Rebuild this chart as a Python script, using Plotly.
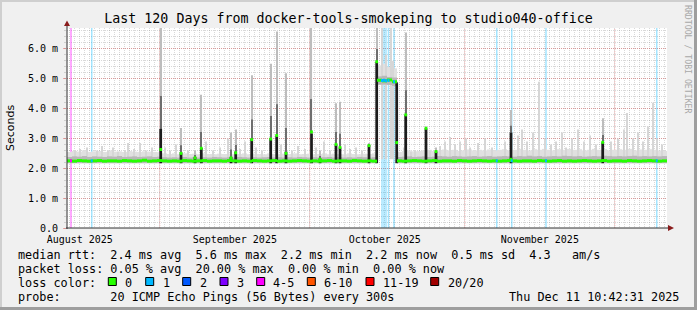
import plotly.graph_objects as go
import pandas as pd

# ---------------- data ----------------
START = pd.Timestamp("2025-08-13 10:42:31")
END = pd.Timestamp("2025-12-11 10:42:31")
Y_MAX = 6.7

# daily median rtt (ms), one value per day from START
median_daily = [
    2.25, 2.24, 2.26, 2.25, 2.24, 2.25, 2.26, 2.24, 2.25, 2.25,
    2.24, 2.26, 2.25, 2.24, 2.25, 2.27, 2.24, 2.25, 2.26, 2.25,
    2.24, 2.25, 2.24, 2.26, 2.25, 2.24, 2.25, 2.26, 2.24, 2.25,
    2.25, 2.24, 2.26, 2.25, 2.24, 2.25, 2.24, 2.26, 2.25, 2.24,
    2.25, 2.26, 2.24, 2.25, 2.24, 2.25, 2.26, 2.25, 2.24, 2.25,
    2.24, 2.25, 2.26, 2.24, 2.25, 2.25, 2.24, 2.26, 2.25, 2.24,
    2.25, 2.24, 4.95, 4.93, 4.96, 4.90, 2.25, 2.24, 2.25, 2.26,
    2.25, 2.24, 2.25, 2.26, 2.24, 2.25, 2.25, 2.24, 2.26, 2.25,
    2.24, 2.25, 2.26, 2.25, 2.24, 2.25, 2.24, 2.25, 2.26, 2.25,
    2.24, 2.25, 2.25, 2.24, 2.26, 2.25, 2.24, 2.25, 2.26, 2.24,
    2.25, 2.24, 2.25, 2.26, 2.25, 2.24, 2.25, 2.26, 2.24, 2.25,
    2.25, 2.24, 2.26, 2.25, 2.24, 2.25, 2.26, 2.25, 2.24, 2.25,
]
# lowest ping of the smoke, per day
smoke_floor_daily = [2.17] * 62 + [4.80, 4.80, 4.79, 4.76] + [2.17] * 54
# top of the dense (darker) smoke, per day
smoke_dense_daily = [
    2.38, 2.40, 2.39, 2.41, 2.38, 2.40, 2.39, 2.38, 2.40, 2.39,
    2.41, 2.38, 2.39, 2.40, 2.38, 2.39, 2.40, 2.38, 2.39, 2.37,
    2.36, 2.37, 2.36, 2.38, 2.36, 2.37, 2.36, 2.37, 2.36, 2.38,
    2.37, 2.36, 2.37, 2.36, 2.38, 2.37, 2.36, 2.37, 2.36, 2.37,
    2.38, 2.36, 2.37, 2.36, 2.37, 2.36, 2.38, 2.37, 2.36, 2.37,
    2.36, 2.37, 2.38, 2.36, 2.37, 2.36, 2.37, 2.36, 2.38, 2.37,
    2.36, 2.37, 5.08, 5.10, 5.06, 5.04, 2.38, 2.39, 2.40, 2.38,
    2.39, 2.40, 2.38, 2.39, 2.41, 2.40, 2.39, 2.41, 2.40, 2.39,
    2.40, 2.41, 2.39, 2.40, 2.41, 2.39, 2.40, 2.41, 2.40, 2.39,
    2.41, 2.40, 2.42, 2.40, 2.41, 2.39, 2.40, 2.41, 2.40, 2.42,
    2.41, 2.40, 2.41, 2.39, 2.40, 2.41, 2.40, 2.42, 2.41, 2.40,
    2.41, 2.40, 2.41, 2.42, 2.40, 2.41, 2.40, 2.41, 2.40, 2.41,
]
# top of the light smoke, per day
smoke_top_daily = [
    2.55, 2.58, 2.56, 2.60, 2.55, 2.57, 2.58, 2.55, 2.60, 2.56,
    2.57, 2.55, 2.58, 2.56, 2.55, 2.57, 2.56, 2.55, 2.54, 2.50,
    2.48, 2.50, 2.47, 2.50, 2.48, 2.49, 2.47, 2.50, 2.48, 2.47,
    2.49, 2.48, 2.50, 2.47, 2.48, 2.50, 2.47, 2.49, 2.48, 2.47,
    2.50, 2.48, 2.47, 2.49, 2.48, 2.50, 2.47, 2.48, 2.49, 2.47,
    2.48, 2.50, 2.47, 2.49, 2.48, 2.47, 2.50, 2.48, 2.47, 2.49,
    2.48, 2.50, 5.45, 5.50, 5.40, 5.35, 2.55, 2.58, 2.60, 2.57,
    2.58, 2.60, 2.62, 2.58, 2.60, 2.63, 2.60, 2.62, 2.58, 2.60,
    2.63, 2.60, 2.62, 2.60, 2.63, 2.60, 2.62, 2.64, 2.60, 2.62,
    2.65, 2.62, 2.60, 2.64, 2.62, 2.65, 2.62, 2.60, 2.64, 2.62,
    2.65, 2.62, 2.64, 2.60, 2.62, 2.65, 2.62, 2.64, 2.60, 2.62,
    2.64, 2.62, 2.65, 2.60, 2.63, 2.62, 2.64, 2.62, 2.60, 2.58,
]

# thin light-grey smoke wisps: day offset and top (ms)
fluff_day = [1.6, 2.6, 4.0, 6.0, 7.0, 8.2, 9.2, 10.2, 11.6, 12.2, 13.4, 14.6, 15.8, 17.0,
             19.6, 20.6, 21.8, 24.2, 27.8, 29.2, 30.6, 32.2, 34.6, 35.6, 37.8, 39.0, 42.8,
             45.0, 46.2, 47.6, 49.8, 51.4, 52.6, 55.6, 56.6, 57.8, 59.0,
             63.0, 63.8, 64.8, 65.2,
             67.4, 68.8, 69.6, 72.6, 74.6, 75.6, 76.6, 77.6, 78.6, 79.8, 80.6, 82.2, 83.6, 85.0,
             87.6, 90.2, 91.0, 92.0, 93.2, 94.4, 95.6, 96.8, 97.8, 99.0, 99.8, 101.0, 102.2,
             103.4, 104.6, 105.8, 108.8, 110.2, 111.4, 112.0, 113.2, 114.2, 115.2, 116.2,
             117.2, 118.0, 119.0]
fluff_top = [2.60, 2.65, 2.70, 2.60, 2.75, 2.60, 2.70, 2.55, 2.60, 2.85, 2.65, 2.85, 2.60, 2.70,
             2.70, 2.60, 2.80, 2.60, 2.90, 2.60, 2.70, 3.00, 2.65, 2.90, 2.70, 2.60, 2.80,
             2.60, 2.75, 2.65, 2.70, 2.90, 2.60, 2.80, 2.65, 2.70, 2.60,
             7.00, 5.80, 7.00, 5.60,
             2.70, 2.55, 2.60, 2.60, 2.75, 2.90, 3.05, 2.80, 2.90, 3.00, 2.70, 2.85, 3.00, 2.70,
             2.90, 3.10, 3.30, 2.90, 3.20, 4.90, 3.00, 2.80, 2.90, 3.20, 2.70, 3.00, 3.30,
             2.90, 3.10, 2.80, 2.90, 3.00, 3.30, 3.85, 3.00, 3.20, 2.90, 3.40,
             4.20, 3.00, 2.80]

# dense latency spikes
spike_day = [18.74, 22.8, 25.6, 26.86, 32.8, 33.74, 36.94, 40.74, 41.94, 43.8, 48.9,
             50.6, 53.8, 54.6, 60.4, 61.94, 65.94, 67.74, 71.8, 73.8, 88.8, 107.14]
spike_dark = [3.32, 2.53, 2.38, 2.68, 2.38, 2.56, 3.00, 3.00, 3.10, 2.56, 3.17,
              2.33, 2.80, 2.70, 2.78, 5.57, 4.85, 3.79, 3.34, 2.56, 3.20, 2.87]
spike_gray = [7.00, 3.35, 2.60, 4.46, 3.20, 3.30, 5.12, 5.50, 6.58, 5.18, 7.00,
              2.60, 4.18, 4.23, 2.85, 7.00, 4.90, 6.55, 3.40, 2.70, 3.95, 3.68]
spike_median = [2.63, 2.50, 2.35, 2.67, 2.35, 2.52, 2.96, 2.98, 3.10, 2.50, 3.22,
                2.30, 2.80, 2.70, 2.76, 5.57, 2.86, 3.79, 3.34, 2.56, 2.30, 2.87]

# packet loss events (lost pings out of 20)
loss_day = [0.8, 4.95, 63.0, 63.4, 63.8, 64.3, 65.4, 85.95, 88.95, 95.8, 117.95]
loss_count = [4, 1, 1, 1, 1, 1, 1, 1, 1, 1, 1]
loss_median = [2.25, 2.25, 4.94, 4.95, 4.93, 4.94, 4.90, 2.25, 2.25, 2.25, 2.25]

loss_labels = ["0", "1", "2", "3", "4-5", "6-10", "11-19", "20/20"]
loss_colors = ["#26ff00", "#00b8ff", "#0059ff", "#7e00ff", "#ff00ff", "#ff5500", "#ff0000", "#a10000"]
loss_bg_colors = ["rgba(38,255,0,0.35)", "rgba(0,184,255,0.36)", "rgba(0,89,255,0.36)",
                  "rgba(126,0,255,0.36)", "rgba(255,0,255,0.45)", "rgba(255,85,0,0.36)",
                  "rgba(255,0,0,0.36)", "rgba(161,0,0,0.36)"]

y_tick_vals = [0, 1, 2, 3, 4, 5, 6]
y_tick_text = ["0.0", "1.0 m", "2.0 m", "3.0 m", "4.0 m", "5.0 m", "6.0 m"]
month_label_dates = ["2025-08-16", "2025-09-16", "2025-10-16", "2025-11-16"]
month_labels = ["August 2025", "September 2025", "October 2025", "November 2025"]
month_starts = ["2025-09-01", "2025-10-01", "2025-11-01", "2025-12-01"]

title_text = "Last 120 Days from docker-tools-smokeping to studio040-office"
row_median = "median rtt:  2.4 ms avg  5.6 ms max  2.2 ms min  2.2 ms now  0.5 ms sd  4.3   am/s"
row_loss = "packet loss: 0.05 % avg  20.00 % max  0.00 % min  0.00 % now"
row_color = "loss color:"
row_probe = "probe:       20 ICMP Echo Pings (56 Bytes) every 300s"
row_time = "Thu Dec 11 10:42:31 2025"

# ---------------- layout constants ----------------
W, H = 697, 310
PL, PR, PT, PB = 67, 667, 28, 228
DAY_MS = 86400000
MONO = "DejaVu Sans Mono"


def ts(d):
    return START + pd.to_timedelta(d, unit="D")


def px(x):
    return (x - PL) / (PR - PL)


def py(y):
    return (PB - y) / (PB - PT)


def loss_index(n):
    if n <= 3:
        return n
    if n <= 5:
        return 4
    if n <= 10:
        return 5
    if n <= 19:
        return 6
    return 7


def bars(days, base, top, width_days, color):
    return go.Bar(
        x=[ts(d) for d in days], base=list(base),
        y=[t - b for t, b in zip(top, base)],
        width=[width_days * DAY_MS] * len(days),
        marker=dict(color=color, line=dict(width=0)),
        hoverinfo="skip", showlegend=False,
    )


fig = go.Figure()
days_c = [i + 0.5 for i in range(len(median_daily))]

# loss background lines
for d, n in zip(loss_day, loss_count):
    fig.add_trace(bars([d], [0], [Y_MAX], 0.3, loss_bg_colors[loss_index(n)]))

# base smoke
fig.add_trace(bars(days_c, smoke_floor_daily, smoke_top_daily, 1.0, "#e0e0e0"))
fig.add_trace(bars(fluff_day, [2.3] * len(fluff_day), fluff_top, 0.22, "#d6d6d6"))
fig.add_trace(bars(days_c, smoke_floor_daily, smoke_dense_daily, 1.0, "#b8b8b8"))

# spikes: grey wisps, then dark core
spike_floor = [2.17] * len(spike_day)
mid = [dk + 0.3 * (g - dk) for dk, g in zip(spike_dark, spike_gray)]
fig.add_trace(bars(spike_day, spike_dark, spike_gray, 0.22, "#bdbdbd"))
fig.add_trace(bars(spike_day, spike_dark, mid, 0.22, "#6e6e6e"))
fig.add_trace(bars(spike_day, spike_floor, spike_dark, 0.55, "#1c1c1c"))

# median (drawn as small stacked boxes like smokeping)
MH = 0.1
fig.add_trace(bars(days_c, [m - MH / 2 for m in median_daily],
                   [m + MH / 2 for m in median_daily], 1.0, loss_colors[0]))
fig.add_trace(bars(spike_day, [m - MH / 2 for m in spike_median],
                   [m + MH / 2 for m in spike_median], 0.55, loss_colors[0]))
fig.add_trace(go.Bar(
    x=[ts(d) for d in loss_day], base=[m - MH / 2 for m in loss_median],
    y=[MH] * len(loss_day), width=[0.4 * DAY_MS] * len(loss_day),
    marker=dict(color=[loss_colors[loss_index(n)] for n in loss_count], line=dict(width=0)),
    hoverinfo="skip", showlegend=False))

GRID = "rgba(130,130,130,0.30)"
MGRID = "rgba(222,80,80,0.45)"

fig.update_layout(
    width=W, height=H,
    margin=dict(l=PL, r=W - PR, t=PT, b=H - PB, pad=0),
    paper_bgcolor="#f0f0f0", plot_bgcolor="#ffffff",
    barmode="overlay", showlegend=False,
    font=dict(family=MONO, size=10, color="#000000"),
    title=dict(text=title_text, x=0.5, xref="container", xanchor="center",
               y=1 - 18.5 / H, yref="container", yanchor="middle",
               font=dict(family=MONO, size=13.3, color="#000000")),
    xaxis=dict(
        type="date", range=[START, END], showline=False, zeroline=False,
        tickmode="array", tickvals=month_label_dates, ticktext=month_labels,
        ticks="", showgrid=False, ticklabelstandoff=4,
        tickfont=dict(family=MONO, size=10, color="#000000"),
        minor=dict(tickmode="linear", tick0="2025-08-14", dtick=DAY_MS, showgrid=True,
                   gridcolor=GRID, griddash="1px,1px", gridwidth=1),
        fixedrange=True,
    ),
    yaxis=dict(
        range=[0, Y_MAX], showline=False, zeroline=False,
        tickmode="array", tickvals=y_tick_vals, ticktext=y_tick_text,
        ticks="outside", ticklen=3, tickcolor=MGRID, ticklabelstandoff=3,
        showgrid=True, gridcolor=MGRID, griddash="1px,1px", gridwidth=1,
        tickfont=dict(family=MONO, size=10, color="#000000"),
        minor=dict(tickmode="linear", tick0=0, dtick=0.2, showgrid=True,
                   gridcolor=GRID, griddash="1px,1px", gridwidth=1,
                   ticks="outside", ticklen=2, tickcolor=GRID),
        fixedrange=True,
    ),
)

shapes = []
# month boundaries (major vertical grid)
for m in month_starts:
    shapes.append(dict(type="line", xref="x", yref="y domain", x0=m, x1=m, y0=0, y1=1,
                       line=dict(color=MGRID, width=1, dash="1px,1px"), layer="below"))
# axes
AX = "#303030"
ARROW = "#8a1c1c"
shapes.append(dict(type="line", xref="paper", yref="paper", x0=px(66), x1=px(671),
                   y0=py(228), y1=py(228), line=dict(color=AX, width=1)))
shapes.append(dict(type="line", xref="paper", yref="paper", x0=px(67), x1=px(67),
                   y0=py(229), y1=py(25), line=dict(color=AX, width=1)))
shapes.append(dict(type="path", xref="paper", yref="paper",
                   path=f"M {px(668)} {py(225)} L {px(674)} {py(228)} L {px(668)} {py(231)} Z",
                   fillcolor=ARROW, line=dict(color=ARROW, width=0)))
shapes.append(dict(type="path", xref="paper", yref="paper",
                   path=f"M {px(64)} {py(26)} L {px(67)} {py(20.5)} L {px(70)} {py(26)} Z",
                   fillcolor=ARROW, line=dict(color=ARROW, width=0)))
# frame shading
shapes.append(dict(type="rect", xref="paper", yref="paper", x0=px(0), x1=px(W), y0=py(0), y1=py(2),
                   fillcolor="#cfcfcf", line=dict(width=0)))
shapes.append(dict(type="rect", xref="paper", yref="paper", x0=px(0), x1=px(2), y0=py(0), y1=py(H),
                   fillcolor="#cfcfcf", line=dict(width=0)))
shapes.append(dict(type="rect", xref="paper", yref="paper", x0=px(0), x1=px(W), y0=py(H - 3), y1=py(H),
                   fillcolor="#9e9e9e", line=dict(width=0)))
shapes.append(dict(type="rect", xref="paper", yref="paper", x0=px(W - 3), x1=px(W), y0=py(0), y1=py(H),
                   fillcolor="#9e9e9e", line=dict(width=0)))
# loss colour legend boxes
box_x = [108.3, 145.7, 182.7, 220.0, 256.7, 307.3, 366.0, 430.7]
lbl_x = [123.0, 160.5, 197.5, 235.0, 271.0, 322.0, 381.0, 446.0]
for bx, c in zip(box_x, loss_colors):
    shapes.append(dict(type="rect", xref="paper", yref="paper", x0=px(bx), x1=px(bx + 8),
                       y0=py(285.5), y1=py(277.5), fillcolor=c, line=dict(color="#000000", width=1)))
fig.update_layout(shapes=shapes)

ann = []


def text(x, y, s, anchor="left", size=11.8, color="#000000", family=MONO, angle=0):
    ann.append(dict(x=px(x), y=py(y), xref="paper", yref="paper", text=s, showarrow=False,
                    xanchor=anchor, yanchor="middle", textangle=angle,
                    font=dict(family=family, size=size, color=color)))


T = lambda s: s.replace(" ", "&nbsp;")
text(16, 254.5, T(row_median))
text(16, 268.5, T(row_loss))
text(16, 282.5, T(row_color))
text(16, 297, T(row_probe))
text(680.5, 297, T(row_time), anchor="right")
for lx, lab in zip(lbl_x, loss_labels):
    text(lx, 282.5, lab)
text(10, 128, "Seconds", anchor="center", size=11, family="DejaVu Sans", angle=-90)
text(688, 59, T("RRDTOOL / TOBI OETIKER"), anchor="center", size=8.2, color="#a8a8a8", angle=90)
fig.update_layout(annotations=ann)

fig.write_html("out.html")
